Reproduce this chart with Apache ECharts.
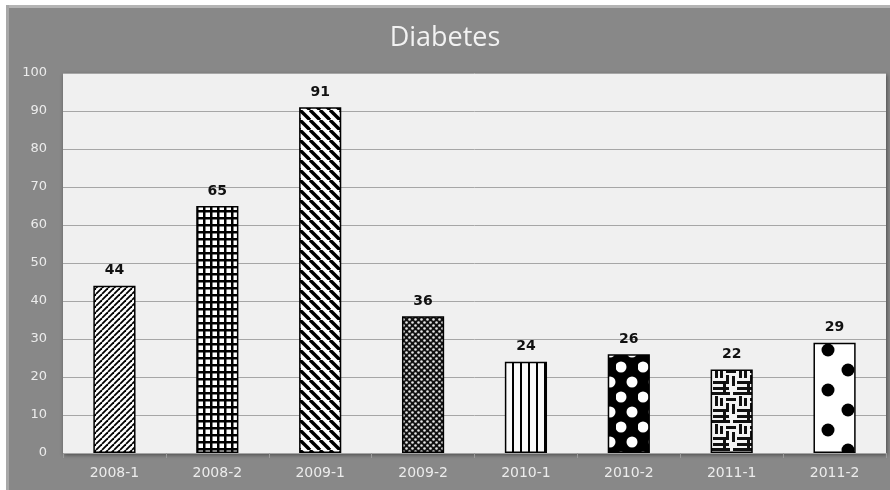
<!DOCTYPE html>
<html>
<head>
<meta charset="utf-8">
<script src="https://cdn.jsdelivr.net/npm/echarts@6/dist/echarts.min.js"></script>
<style>
html,body{margin:0;padding:0;background:#ffffff;}
#chart{width:890px;height:490px;}
</style>
</head>
<body>
<div id="chart"></div>
<script>
var titleText = 'Diabetes';
var categories = ['2008-1','2008-2','2009-1','2009-2','2010-1','2010-2','2011-1','2011-2'];
var values = [44, 65, 91, 36, 24, 26, 22, 29];
var yTicks = [0,10,20,30,40,50,60,70,80,90,100];

function tile(w, h, draw) {
  var c = document.createElement('canvas');
  c.width = w; c.height = h;
  var ctx = c.getContext('2d');
  draw(ctx, w, h);
  return c;
}
function diag(period, lw, forward) {
  return tile(period, period, function (ctx, w, h) {
    ctx.fillStyle = '#fff'; ctx.fillRect(0, 0, w, h);
    ctx.strokeStyle = '#000'; ctx.lineWidth = lw;
    for (var k = -1; k <= 1; k++) {
      ctx.beginPath();
      if (forward) { ctx.moveTo(k * w, h); ctx.lineTo(k * w + w, 0); }
      else { ctx.moveTo(k * w, 0); ctx.lineTo(k * w + w, h); }
      ctx.stroke();
    }
  });
}
var patterns = [
  diag(6, 1.8, true),
  tile(7, 7, function (ctx, w, h) {
    ctx.fillStyle = '#000'; ctx.fillRect(0, 0, w, h);
    ctx.fillStyle = '#fff'; ctx.fillRect(2.5, 2.5, 4.5, 4.5);
  }),
  diag(10, 3.4, false),
  tile(6, 6, function (ctx, w, h) {
    ctx.fillStyle = '#111'; ctx.fillRect(0, 0, w, h);
    ctx.fillStyle = '#e6e6e6';
    ctx.beginPath(); ctx.arc(1.5, 1.5, 1.3, 0, Math.PI * 2); ctx.fill();
    ctx.beginPath(); ctx.arc(4.5, 4.5, 1.3, 0, Math.PI * 2); ctx.fill();
  }),
  tile(8, 8, function (ctx, w, h) {
    ctx.fillStyle = '#fafafa'; ctx.fillRect(0, 0, w, h);
    ctx.fillStyle = '#000'; ctx.fillRect(0, 0, 2, h);
  }),
  tile(22, 30, function (ctx, w, h) {
    ctx.fillStyle = '#000'; ctx.fillRect(0, 0, w, h);
    ctx.fillStyle = '#fff';
    ctx.beginPath(); ctx.arc(5, 7, 5.5, 0, Math.PI * 2); ctx.fill();
    ctx.beginPath(); ctx.arc(16, 22, 5.5, 0, Math.PI * 2); ctx.fill();
  }),
  tile(24, 28, function (ctx, w, h) {
    ctx.fillStyle = '#f4f4f4'; ctx.fillRect(0, 0, w, h);
    ctx.fillStyle = '#111';
    ctx.fillRect(0, 0, 10, 3); ctx.fillRect(13, 0, 11, 3);
    ctx.fillRect(0, 6, 3, 8); ctx.fillRect(6, 6, 10, 3);
    ctx.fillRect(19, 4, 3, 10); ctx.fillRect(6, 11, 3, 9);
    ctx.fillRect(12, 12, 3, 10); ctx.fillRect(0, 17, 6, 3);
    ctx.fillRect(17, 17, 7, 3); ctx.fillRect(0, 23, 9, 3);
    ctx.fillRect(3, 20, 3, 8); ctx.fillRect(17, 23, 7, 3);
  }),
  tile(40, 40, function (ctx, w, h) {
    ctx.fillStyle = '#fff'; ctx.fillRect(0, 0, w, h);
    ctx.fillStyle = '#000';
    ctx.beginPath(); ctx.arc(8, 10, 6.5, 0, Math.PI * 2); ctx.fill();
    ctx.beginPath(); ctx.arc(28, 30, 6.5, 0, Math.PI * 2); ctx.fill();
  })
];

var data = values.map(function (v, i) {
  return {
    value: v,
    itemStyle: {
      color: { image: patterns[i], repeat: 'repeat' }
    }
  };
});

var chart = echarts.init(document.getElementById('chart'), null, { renderer: 'canvas' });
chart.setOption({
  backgroundColor: '#ffffff',
  animation: false,
  graphic: [
    { type: 'rect', z: -10, shape: { x: 6, y: 5, width: 884, height: 485 },
      style: { fill: '#888888' } },
    { type: 'rect', z: -9, shape: { x: 6, y: 5, width: 884, height: 3 },
      style: { fill: '#b4b4b4' } },
    { type: 'rect', z: -9, shape: { x: 6, y: 5, width: 3, height: 485 },
      style: { fill: '#a8a8a8' } }
  ],
  title: {
    text: titleText,
    left: 'center',
    top: 20,
    textStyle: { color: '#f2f2f2', fontFamily: 'Open Sans', fontSize: 27, fontWeight: 'normal' }
  },
  grid: {
    left: 63, right: 4, top: 73, bottom: 37,
    show: true, backgroundColor: '#f0f0f0', borderWidth: 0,
    shadowColor: 'rgba(0,0,0,0.45)', shadowBlur: 4, shadowOffsetX: 1, shadowOffsetY: 2
  },
  xAxis: {
    type: 'category',
    data: categories,
    axisLine: { show: false },
    axisTick: { show: true, alignWithLabel: false, length: 5, lineStyle: { color: '#9a9a9a' } },
    axisLabel: { color: '#ececec', fontFamily: 'DejaVu Sans', fontSize: 14, margin: 13 }
  },
  yAxis: {
    type: 'value',
    min: yTicks[0], max: yTicks[yTicks.length - 1], interval: yTicks[1] - yTicks[0],
    axisLine: { show: false },
    axisTick: { show: false },
    splitLine: { lineStyle: { color: '#a6a6a6', width: 1 } },
    axisLabel: { color: '#ececec', fontFamily: 'DejaVu Sans', fontSize: 13, margin: 16 }
  },
  series: [{
    type: 'bar',
    data: data,
    barWidth: '41%',
    itemStyle: { borderColor: '#000', borderWidth: 1.5 },
    label: {
      show: true, position: 'top', distance: 8,
      color: '#111', fontFamily: 'DejaVu Sans', fontWeight: 'bold', fontSize: 14
    }
  }]
});
</script>
</body>
</html>
